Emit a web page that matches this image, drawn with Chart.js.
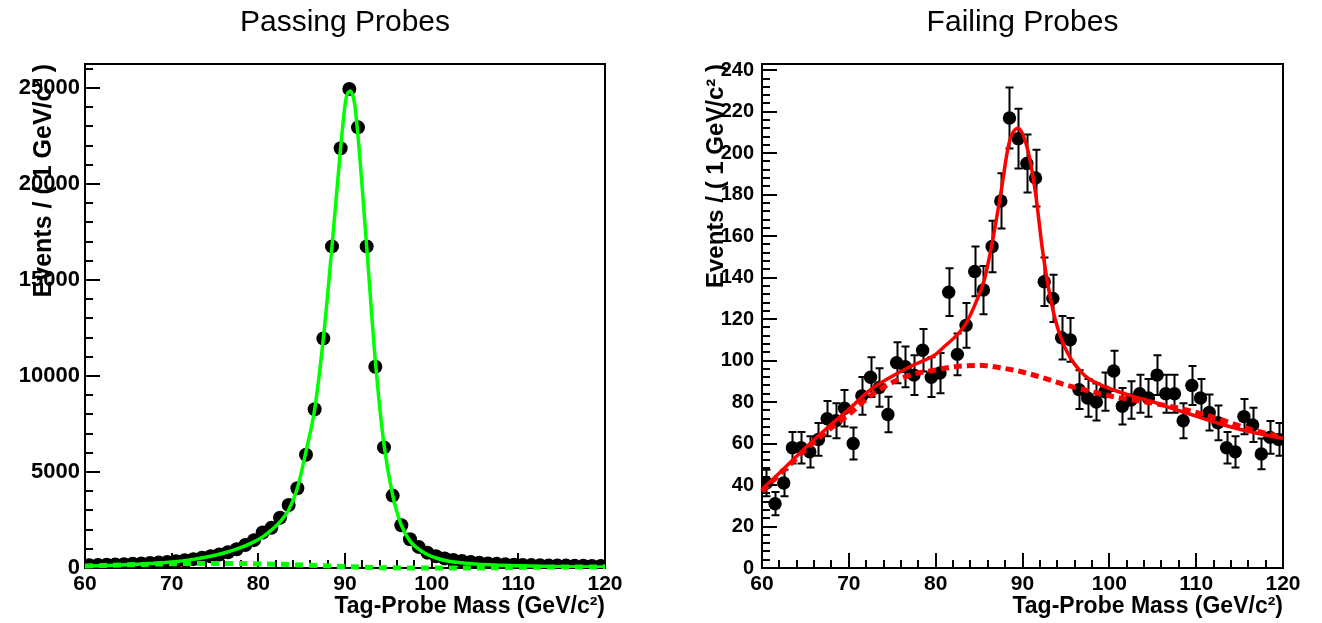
<!DOCTYPE html>
<html>
<head>
<meta charset="utf-8">
<title>Tag-Probe Mass</title>
<script src="https://cdn.jsdelivr.net/npm/chart.js@4.4.1/dist/chart.umd.min.js"></script>
<style>
  html, body { margin: 0; padding: 0; background: #fff; }
  #wrap { position: relative; width: 1322px; height: 623px; }
  .pane { position: absolute; top: 0; width: 661px; height: 623px; }
</style>
</head>
<body>
<div id="wrap">
  <div class="pane" style="left:0"><canvas id="pass" width="661" height="623"></canvas></div>
  <div class="pane" style="left:661px"><canvas id="fail" width="661" height="623"></canvas></div>
</div>
<script>
// 1 GeV/c^2 bin centres
const massBins = [
  60.5, 61.5, 62.5, 63.5, 64.5, 65.5, 66.5, 67.5, 68.5, 69.5,
  70.5, 71.5, 72.5, 73.5, 74.5, 75.5, 76.5, 77.5, 78.5, 79.5,
  80.5, 81.5, 82.5, 83.5, 84.5, 85.5, 86.5, 87.5, 88.5, 89.5,
  90.5, 91.5, 92.5, 93.5, 94.5, 95.5, 96.5, 97.5, 98.5, 99.5,
  100.5, 101.5, 102.5, 103.5, 104.5, 105.5, 106.5, 107.5, 108.5, 109.5,
  110.5, 111.5, 112.5, 113.5, 114.5, 115.5, 116.5, 117.5, 118.5, 119.5
];

// Passing probes: events per bin
const passCounts = [
  140, 155, 170, 185, 200, 220, 240, 260, 285, 310,
  350, 400, 460, 530, 610, 700, 820, 980, 1200, 1450,
  1850, 2090, 2620, 3280, 4150, 5900, 8270, 11950, 16750, 21860,
  24950, 22950, 16750, 10480, 6280, 3770, 2230, 1500, 1100, 800,
  610, 500, 420, 360, 310, 270, 240, 215, 195, 175,
  160, 150, 142, 135, 130, 125, 118, 112, 108, 105
];

// Passing probes: total fit (signal + background)
const passFitX = [60, 62, 65, 67.5, 70, 72.5, 75, 77.5, 79.5, 80.5, 81.5, 82.5, 83.5, 84.5, 85.5, 86.5, 87.5, 88.5, 89.5, 90.1, 90.6, 91.1, 91.5, 92.5, 93.5, 94.5, 95.5, 96.5, 97.5, 98.5, 99.5, 100.5, 102, 105, 110, 115, 120];
const passFitY = [100, 120, 175, 230, 310, 450, 660, 980, 1360, 1620, 1970, 2400, 3020, 4150, 6070, 8270, 11950, 16750, 21900, 24400, 24850, 24200, 22500, 16750, 10800, 6420, 3800, 2230, 1400, 980, 700, 520, 350, 210, 120, 70, 50];

// Passing probes: background component
const passBkgX = [60, 65, 70, 75, 80, 85, 90, 95, 100, 105, 110, 115, 120];
const passBkgY = [100, 170, 220, 240, 220, 160, 70, 10, 0, 0, 30, 50, 60];

// Failing probes: events per bin and their errors
const failCounts = [
  41, 31, 41, 58, 58, 56, 62, 72, 71, 77,
  60, 83, 92, 87, 74, 99, 97, 93, 105, 92,
  94, 133, 103, 117, 143, 134, 155, 177, 217, 207,
  195, 188, 138, 130, 111, 110, 86, 82, 80, 85,
  95, 78, 81, 84, 82, 93, 84, 84, 71, 88,
  82, 75, 70, 58, 56, 73, 69, 55, 63, 62
];
const failErrors = [
  6.4, 5.6, 6.4, 7.6, 7.6, 7.5, 7.9, 8.5, 8.4, 8.8,
  7.7, 9.1, 9.6, 9.3, 8.6, 9.9, 9.8, 9.6, 10.2, 9.6,
  9.7, 11.5, 10.1, 10.8, 12.0, 11.6, 12.4, 13.3, 14.7, 14.4,
  14.0, 13.7, 11.7, 11.4, 10.5, 10.5, 9.3, 9.1, 8.9, 9.2,
  9.7, 8.8, 9.0, 9.2, 9.1, 9.6, 9.2, 9.2, 8.4, 9.4,
  9.1, 8.7, 8.4, 7.6, 7.5, 8.5, 8.3, 7.4, 7.9, 7.9
];

// Failing probes: total fit
const failFitX = [60, 62, 65, 67.5, 70, 72.5, 75, 77.5, 80, 81, 82.5, 83.5, 84.6, 85.6, 86.5, 87.5, 88.45, 89.5, 90.6, 91.5, 92.3, 93.1, 94.0, 95.2, 97.1, 99, 101, 103, 105, 107, 109, 111, 113, 115, 117, 119, 120];
const failFitY = [38, 45.8, 58, 67.5, 76.5, 86, 92.5, 98, 103, 106.8, 112.5, 118, 127.7, 138.9, 156.6, 180.7, 204.8, 212, 201.6, 180.7, 153.4, 132.5, 116.4, 103.6, 93.1, 88.3, 85.1, 82.4, 80.1, 77.2, 74.6, 71.8, 69.2, 66.9, 65, 63.3, 62.6];

// Failing probes: background component
const failBkgX = [60, 62, 65, 67.5, 70, 72.5, 75, 77.5, 80, 82.5, 85, 87.5, 90, 92.5, 95, 97.5, 100, 102.5, 105, 107.5, 110, 112.5, 115, 117.5, 120];
const failBkgY = [37, 45, 57, 66, 74, 83, 89.5, 93.5, 95.5, 97.2, 97.7, 96.5, 94.5, 91.5, 88.2, 85.5, 83, 81.2, 79.5, 77.5, 75, 72, 68.5, 65.5, 63];

// Axis tick labels
const massTicks = [60, 70, 80, 90, 100, 110, 120];
const passYTicks = [0, 5000, 10000, 15000, 20000, 25000];
const failYTicks = [0, 20, 40, 60, 80, 100, 120, 140, 160, 180, 200, 220, 240];

const FONT = '"Liberation Sans", Arial, Helvetica, sans-serif';
Chart.defaults.font.family = FONT;
Chart.defaults.color = '#000';

const toPoints = (xs, ys) => xs.map((x, i) => ({ x, y: ys[i] }));

// Frame, inward tick marks and vertical error bars, drawn under the datasets
const frameAndErrors = {
  id: 'frameAndErrors',
  beforeDatasetsDraw(chart, args, opts) {
    const { ctx, chartArea: a, scales: { x, y } } = chart;
    ctx.save();
    ctx.strokeStyle = '#000';
    ctx.lineCap = 'butt';

    // x ticks along the bottom edge
    ctx.lineWidth = 2;
    ctx.beginPath();
    for (let v = x.min; v <= x.max + 1e-6; v += opts.xMinor) {
      const px = Math.round(x.getPixelForValue(v));
      const len = massTicks.some(t => Math.abs(t - v) < 1e-6) ? 15 : 8;
      ctx.moveTo(px, a.bottom);
      ctx.lineTo(px, a.bottom - len);
    }
    // y ticks along the left edge
    for (let v = 0; v <= y.max + 1e-6; v += opts.yMinor) {
      const py = Math.round(y.getPixelForValue(v));
      const len = opts.yMajor.some(t => Math.abs(t - v) < 1e-6) ? 15 : 8;
      ctx.moveTo(a.left, py);
      ctx.lineTo(a.left + len, py);
    }
    ctx.stroke();

    ctx.lineWidth = 2;
    ctx.strokeRect(a.left, a.top, a.right - a.left, a.bottom - a.top);

    if (opts.values && opts.errors) {
      ctx.lineWidth = 2;
      ctx.beginPath();
      opts.values.forEach((val, i) => {
        const px = Math.round(x.getPixelForValue(massBins[i])) + 0.5;
        const top = y.getPixelForValue(val + opts.errors[i]);
        const bot = y.getPixelForValue(val - opts.errors[i]);
        ctx.moveTo(px, top); ctx.lineTo(px, bot);
        ctx.moveTo(px - 4, top); ctx.lineTo(px + 4, top);
        ctx.moveTo(px - 4, bot); ctx.lineTo(px + 4, bot);
      });
      ctx.stroke();
    }
    ctx.restore();
  }
};

function makePanel(id, p) {
  return new Chart(document.getElementById(id), {
    type: 'line',
    data: {
      datasets: [
        {
          data: toPoints(massBins, p.counts),
          showLine: false,
          pointRadius: p.markerRadius,
          pointBackgroundColor: '#000',
          pointBorderWidth: 0,
          order: 2
        },
        {
          data: toPoints(p.bkgX, p.bkgY),
          borderColor: p.color,
          borderWidth: 5,
          borderDash: p.dash,
          pointRadius: 0,
          cubicInterpolationMode: 'monotone',
          clip: false,
          order: 1
        },
        {
          data: toPoints(p.fitX, p.fitY),
          borderColor: p.color,
          borderWidth: 3.5,
          pointRadius: 0,
          cubicInterpolationMode: 'monotone',
          order: 0
        }
      ]
    },
    options: {
      responsive: false,
      animation: false,
      events: [],
      layout: { padding: { top: 0, left: 0, bottom: 0, right: p.rightPad } },
      scales: {
        x: {
          type: 'linear',
          min: 60,
          max: 120,
          afterBuildTicks: s => { s.ticks = massTicks.map(v => ({ value: v })); },
          afterFit: s => { s.height = 55; },
          grid: { display: false, drawTicks: false },
          border: { display: false },
          ticks: {
            color: '#000',
            autoSkip: false,
            maxRotation: 0,
            padding: 4,
            font: { size: 21, weight: 'bold' },
            callback: v => String(v)
          },
          title: {
            display: true,
            text: 'Tag-Probe Mass (GeV/c²)',
            align: 'end',
            color: '#000',
            font: { size: 23, weight: 'bold' },
            padding: { top: 0, bottom: 3 }
          }
        },
        y: {
          type: 'linear',
          min: 0,
          max: p.yMax,
          afterBuildTicks: s => { s.ticks = p.yTicks.map(v => ({ value: v })); },
          afterFit: s => { s.width = p.axisLeft; },
          grid: { display: false, drawTicks: false },
          border: { display: false },
          ticks: {
            color: '#000',
            autoSkip: false,
            padding: p.yLabelPad,
            font: { size: p.yLabelSize, weight: 'bold' },
            callback: v => String(v)
          },
          title: {
            display: true,
            text: 'Events / ( 1 GeV/c² )',
            align: 'end',
            color: '#000',
            font: { size: p.yTitleSize, weight: 'bold' },
            padding: { top: p.yTitleOffset, bottom: 0 }
          }
        }
      },
      plugins: {
        legend: { display: false },
        tooltip: { enabled: false },
        title: {
          display: true,
          text: p.title,
          color: '#000',
          fullSize: false,
          font: { size: 30, weight: 'normal', lineHeight: 1.2 },
          padding: { top: 5, bottom: 23 }
        },
        frameAndErrors: {
          xMinor: 2,
          yMinor: p.yMinor,
          yMajor: p.yTicks,
          values: p.errors ? p.counts : null,
          errors: p.errors
        }
      }
    },
    plugins: [frameAndErrors]
  });
}

makePanel('pass', {
  title: 'Passing Probes',
  counts: passCounts,
  fitX: passFitX, fitY: passFitY,
  bkgX: passBkgX, bkgY: passBkgY,
  color: '#00ff00',
  dash: [8, 6],
  markerRadius: 7,
  yMax: 26250,
  yTicks: passYTicks,
  yMinor: 1000,
  axisLeft: 85,
  rightPad: 56,
  yLabelPad: 5,
  yLabelSize: 22,
  yTitleSize: 25,
  yTitleOffset: 29,
  errors: null
});

makePanel('fail', {
  title: 'Failing Probes',
  counts: failCounts,
  fitX: failFitX, fitY: failFitY,
  bkgX: failBkgX, bkgY: failBkgY,
  color: '#ff0000',
  dash: [8, 5],
  markerRadius: 6.7,
  yMax: 243,
  yTicks: failYTicks,
  yMinor: 4,
  axisLeft: 101,
  rightPad: 39,
  yLabelPad: 8,
  yLabelSize: 20,
  yTitleSize: 24,
  yTitleOffset: 41,
  errors: failErrors
});
</script>
</body>
</html>
